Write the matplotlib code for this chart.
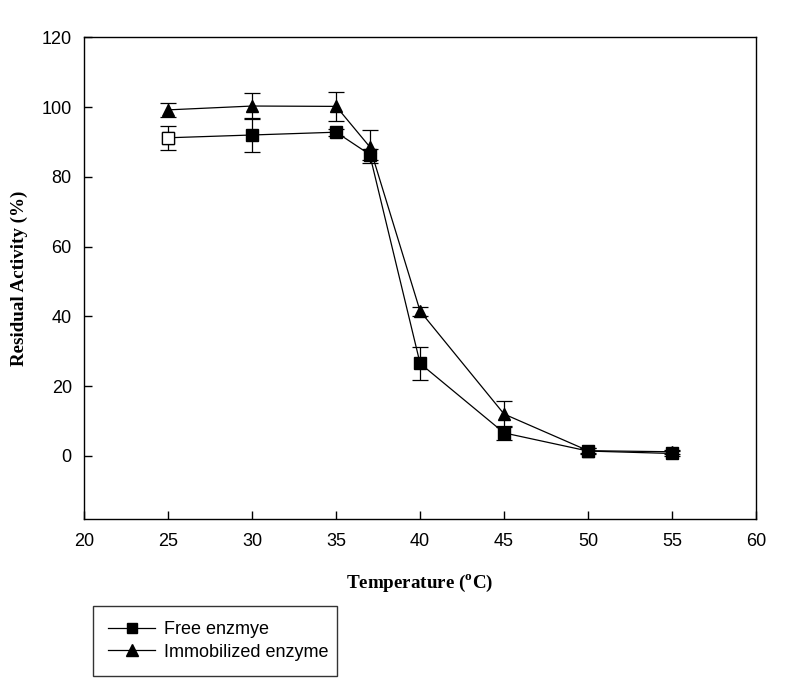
import matplotlib
matplotlib.use("Agg")
import matplotlib.pyplot as plt
from matplotlib.lines import Line2D

plt.rcParams['font.family'] = ['Liberation Sans', 'DejaVu Sans']
plt.rcParams['mathtext.fontset'] = 'custom'
plt.rcParams['mathtext.rm'] = 'Liberation Serif:bold'

temperature = [25, 30, 35, 37, 40, 45, 50, 55]
free_enzyme = [91.2, 92.0, 92.8, 86.4, 26.5, 6.6, 1.4, 0.7]
free_err = [3.5, 4.8, 1.0, 1.5, 4.6, 2.0, 0.8, 0.6]
immob_enzyme = [99.2, 100.3, 100.2, 88.6, 41.5, 12.0, 1.5, 1.2]
immob_err = [2.0, 3.8, 4.2, 4.7, 1.3, 3.8, 0.7, 0.6]

series_labels = ["Free enzmye", "Immobilized enzyme"]
x_ticks = [20, 25, 30, 35, 40, 45, 50, 55, 60]
y_ticks = [0, 20, 40, 60, 80, 100, 120]

fig = plt.figure(figsize=(8.01, 6.82), dpi=100)
ax = fig.add_axes([0.1052, 0.2394, 0.8386, 0.7059])

lw = 0.9
ax.errorbar(temperature, free_enzyme, yerr=free_err, color='black', lw=lw,
            marker='s', markersize=8, capsize=6, elinewidth=lw, capthick=lw,
            zorder=3)
# first point drawn hollow as in the reference
ax.plot(temperature[:1], free_enzyme[:1], 's', markersize=8,
        markerfacecolor='white', markeredgecolor='black', markeredgewidth=lw,
        zorder=4)
ax.errorbar(temperature, immob_enzyme, yerr=immob_err, color='black', lw=lw,
            marker='^', markersize=9, capsize=6, elinewidth=lw, capthick=lw,
            zorder=3)

ax.set_xlim(20, 60)
ax.set_ylim(-18, 120)
ax.set_xticks(x_ticks)
ax.set_yticks(y_ticks)
ax.tick_params(direction='in', length=6, width=1, labelsize=13, pad=9,
               top=False, right=False)
ax.tick_params(axis='x', pad=10)
for s in ax.spines.values():
    s.set_linewidth(1)

ax.set_xlabel(r'Temperature ($^{\rm o}$C)', family='Liberation Serif',
              fontweight='bold', fontsize=13.7, labelpad=17)
ax.set_ylabel('Residual Activity (%)', family='Liberation Serif',
              fontweight='bold', fontsize=13.7, labelpad=10)

handles = [
    Line2D([], [], color='black', lw=lw, marker='s', markersize=7),
    Line2D([], [], color='black', lw=lw, marker='^', markersize=8),
]
leg = fig.legend(handles, series_labels, loc='lower left',
                 bbox_to_anchor=(93 / 801, 6 / 682, 244 / 801, 73 / 682),
                 mode='expand', fontsize=13, frameon=True, fancybox=False,
                 edgecolor='black', handlelength=2.6, handletextpad=0.5,
                 borderpad=0.85, labelspacing=0.3, borderaxespad=0)
leg.get_frame().set_linewidth(1)

fig.savefig('out.png', dpi=100)
